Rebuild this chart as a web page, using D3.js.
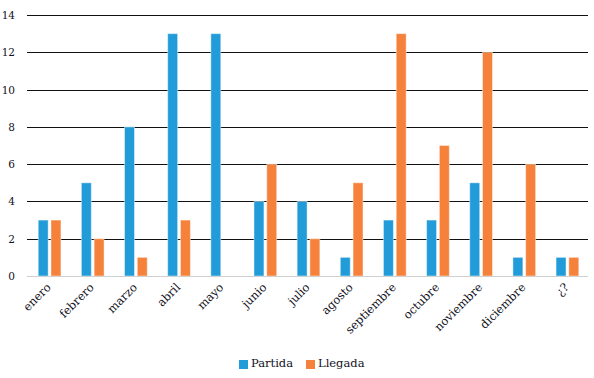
<!DOCTYPE html>
<html lang="es">
<head>
<meta charset="UTF-8">
<title>Partida / Llegada</title>
<style>
  body { margin: 0; background: #fff; }
  svg text { font-family: "DejaVu Serif", serif; fill: #111122; }
</style>
</head>
<body>
<div id="chart"></div>
<script src="https://d3js.org/d3.v7.min.js"></script>
<script>
const months = ['enero', 'febrero', 'marzo', 'abril', 'mayo', 'junio', 'julio',
  'agosto', 'septiembre', 'octubre', 'noviembre', 'diciembre', '¿?'];
const partida = [3, 5, 8, 13, 13, 4, 4, 1, 3, 3, 5, 1, 1];
const llegada = [3, 2, 1, 3, 0, 6, 2, 5, 13, 7, 12, 6, 1];
const seriesNames = ['Partida', 'Llegada'];
const colors = ['#219cd8', '#f5813a'];
const yTicks = [0, 2, 4, 6, 8, 10, 12, 14];

const width = 594, height = 378;
const margin = { left: 27, right: 6, top: 15, bottom: 102 };

const svg = d3.select('#chart').append('svg')
  .attr('width', width).attr('height', height);

const x = d3.scaleBand().domain(months)
  .range([margin.left, width - margin.right]);
const xs = d3.scaleBand().domain(seriesNames)
  .range([1, x.bandwidth() + 1]).paddingInner(0.22).paddingOuter(0.8);
const y = d3.scaleLinear().domain([0, 14])
  .range([height - margin.bottom, margin.top]);

// gridlines
svg.append('g').selectAll('line')
  .data(yTicks.filter(d => d > 0))
  .enter().append('line')
  .attr('x1', margin.left).attr('x2', width - margin.right)
  .attr('y1', d => Math.round(y(d)) + 0.5).attr('y2', d => Math.round(y(d)) + 0.5)
  .attr('stroke', '#111').attr('stroke-width', 1);

// y labels
svg.append('g').selectAll('text')
  .data(yTicks)
  .enter().append('text')
  .attr('x', 15).attr('y', d => y(d) + 4)
  .attr('text-anchor', 'end')
  .attr('font-size', 10.5)
  .text(d => d);

// bars
const data = months.map((m, i) => ({ m, vals: [partida[i], llegada[i]] }));
const groups = svg.append('g').selectAll('g')
  .data(data).enter().append('g')
  .attr('transform', d => `translate(${x(d.m)},0)`);
groups.selectAll('rect')
  .data(d => d.vals.map((v, j) => ({ v, s: seriesNames[j], c: colors[j] })))
  .enter().append('rect')
  .filter(d => d.v > 0)
  .attr('x', d => xs(d.s))
  .attr('width', xs.bandwidth())
  .attr('y', d => y(d.v))
  .attr('height', d => y(0) - y(d.v))
  .attr('fill', d => d.c)
  .attr('stroke', '#fff').attr('stroke-opacity', 0.45).attr('stroke-width', 1);

// baseline
svg.append('line')
  .attr('x1', margin.left).attr('x2', width - margin.right)
  .attr('y1', Math.round(y(0)) + 0.5).attr('y2', Math.round(y(0)) + 0.5)
  .attr('stroke', '#d0d0d0').attr('stroke-width', 1);

// x labels
svg.append('g').selectAll('text')
  .data(months).enter().append('text')
  .attr('text-anchor', 'end')
  .attr('font-size', 11.5)
  .attr('transform', d => `translate(${x(d) + x.bandwidth() / 2 + 3},${y(0) + 12}) rotate(-45)`)
  .text(d => d);

// legend
const legend = svg.append('g').attr('transform', 'translate(239,360)');
const items = [{ n: 'Partida', c: colors[0], dx: 0 }, { n: 'Llegada', c: colors[1], dx: 67 }];
items.forEach(it => {
  legend.append('rect').attr('x', it.dx).attr('y', 0).attr('width', 9).attr('height', 9).attr('fill', it.c);
  legend.append('text').attr('x', it.dx + 12).attr('y', 7).attr('font-size', 11.5).text(it.n);
});
</script>
</body>
</html>
